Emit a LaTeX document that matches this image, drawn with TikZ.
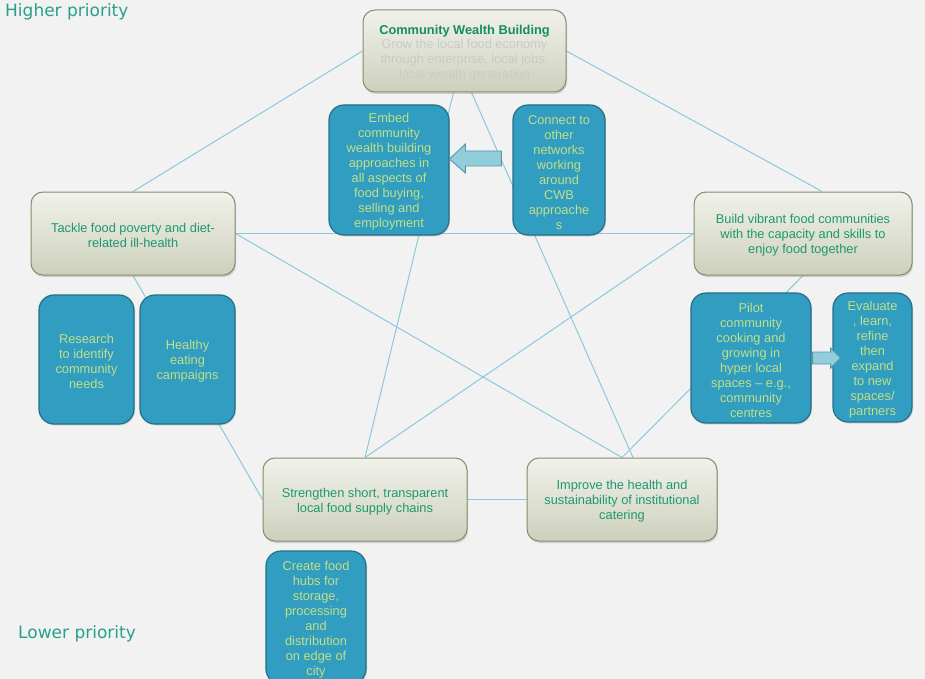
\documentclass[tikz,border=0pt]{standalone}
\usepackage{fontspec}
\setmainfont{Liberation Sans}
\newfontfamily\labfont{DejaVu Sans}
\usetikzlibrary{calc,shadows}
\pgfdeclarelayer{background}
\pgfsetlayers{background,main}
\definecolor{bg}{RGB}{242,242,242}
\definecolor{maintop}{RGB}{240,242,235}
\definecolor{mainbot}{RGB}{206,208,188}
\definecolor{mainborder}{RGB}{138,138,108}
\definecolor{maintext}{RGB}{30,152,112}
\definecolor{titletext}{RGB}{22,140,100}
\definecolor{subtext}{RGB}{202,202,202}
\definecolor{bluefill}{RGB}{49,157,192}
\definecolor{blueborder}{RGB}{36,110,136}
\definecolor{bluetext}{RGB}{192,224,136}
\definecolor{linkcol}{RGB}{140,200,222}
\definecolor{arrfill}{RGB}{146,205,220}
\definecolor{arrdraw}{RGB}{88,150,170}
\definecolor{prio}{RGB}{40,160,140}
\newcommand{\tstrut}{\rule{0pt}{13.5pt}}
\tikzset{
  mainbox/.style={draw=mainborder, line width=1pt, rounded corners=12pt,
    top color=maintop, bottom color=mainbot, text=maintext, align=center,
    inner sep=0pt, font=\fontsize{12.8}{15}\selectfont,
    drop shadow={shadow xshift=1pt, shadow yshift=-2pt, opacity=0.25, fill=black!60}},
  bluebox/.style={draw=blueborder, line width=1.2pt, rounded corners=15pt,
    fill=bluefill, text=bluetext, align=center, inner sep=0pt,
    font=\fontsize{12.8}{15}\selectfont,
    drop shadow={shadow xshift=1pt, shadow yshift=-1.5pt, opacity=0.2, fill=black!60}},
  link/.style={draw=linkcol, line width=1pt},
  blockarrow/.style={fill=arrfill, draw=arrdraw, line width=0.9pt, line join=miter},
  priolabel/.style={text=prio, font=\labfont\fontsize{17}{20}\selectfont, inner sep=0pt, anchor=west}
}
\begin{document}
\begin{tikzpicture}[x=1pt,y=-1pt]
\begin{pgfonlayer}{background}
\fill[bg] (0,0) rectangle (925,679);
\end{pgfonlayer}
\useasboundingbox (0,0) rectangle (925,679);

% main boxes
\node[mainbox, minimum width=203pt, minimum height=82pt] (cwb) at (464.5,51)
  {{\bfseries\color{titletext}\tstrut Community Wealth Building}\\[-1pt]
   {\color{subtext}Grow the local food economy}\\
   {\color{subtext}through enterprise, local jobs,}\\
   {\color{subtext}local wealth generation}};
\node[mainbox, minimum width=204pt, minimum height=83pt] (tackle) at (133,233.5)
  {\tstrut Tackle food poverty and diet-\\related ill-health};
\node[mainbox, minimum width=218pt, minimum height=83pt] (build) at (803,233.5)
  {\tstrut Build vibrant food communities\\with the capacity and skills to\\enjoy food together};
\node[mainbox, minimum width=204pt, minimum height=83pt] (strength) at (365,499.5)
  {\tstrut Strengthen short, transparent\\local food supply chains};
\node[mainbox, minimum width=190pt, minimum height=83pt] (improve) at (622,499.5)
  {\tstrut Improve the health and\\sustainability of institutional\\catering};

% connectors (behind the boxes)
\begin{pgfonlayer}{background}
\path[link] (cwb.west) -- (tackle.north);
\path[link] (cwb.east) -- ($(build.north)+(19,0)$);
\path[link] (tackle.east) -- (build.west);
\path[link] (tackle.east) -- (improve.north);
\path[link] (build.west) -- (strength.north);
\path[link] ($(cwb.south)+(-11,0)$) -- (strength.north);
\path[link] ($(cwb.south)+(7,0)$) -- ($(improve.north)+(11,0)$);
\path[link] (build.south) -- (improve.north);
\path[link] (tackle.south) -- (strength.west);
\path[link] (strength.east) -- (improve.west);
\end{pgfonlayer}

% blue boxes
\node[bluebox, minimum width=120pt, minimum height=130pt] (embed) at (389,170)
  {\tstrut Embed\\community\\wealth building\\approaches in\\all aspects of\\food buying,\\selling and\\employment};
\node[bluebox, minimum width=92pt, minimum height=130pt] (connect) at (559,170)
  {\tstrut Connect to\\other\\networks\\working\\around\\CWB\\approache\\s};
\node[bluebox, minimum width=95pt, minimum height=129pt] (research) at (86.5,359.5)
  {\tstrut Research\\to identify\\community\\needs};
\node[bluebox, minimum width=95pt, minimum height=129pt] (healthy) at (187.5,359.5)
  {\tstrut Healthy\\eating\\campaigns};
\node[bluebox, minimum width=120pt, minimum height=130pt] (pilot) at (751,358)
  {\tstrut Pilot\\community\\cooking and\\growing in\\hyper local\\spaces -- e.g.,\\community\\centres};
\node[bluebox, minimum width=79pt, minimum height=129pt] (evaluate) at (872.5,357.5)
  {\tstrut Evaluate\\, learn,\\refine\\then\\expand\\to new\\spaces/\\partners};
\node[bluebox, minimum width=100pt, minimum height=133pt] (hubs) at (316,617.5)
  {\tstrut Create food\\hubs for\\storage,\\processing\\and\\distribution\\on edge of\\city};

% block arrows
\draw[blockarrow] ($(connect.west)+(-11,-19)$) -- ++(-36,0) -- ++(0,-7) -- ++(-16,15)
  -- ++(16,14) -- ++(0,-7) -- ++(36,0) -- cycle;
\draw[blockarrow] ($(pilot.east)+(1,-6)$) -- ++(18,0) -- ++(0,-4) -- ++(10,10)
  -- ++(-10,10) -- ++(0,-4) -- ++(-18,0) -- cycle;

% priority labels
\node[priolabel] (high) at (5,12) {Higher priority};
\node[priolabel] (low) at (18,634) {Lower priority};
\end{tikzpicture}
\end{document}
